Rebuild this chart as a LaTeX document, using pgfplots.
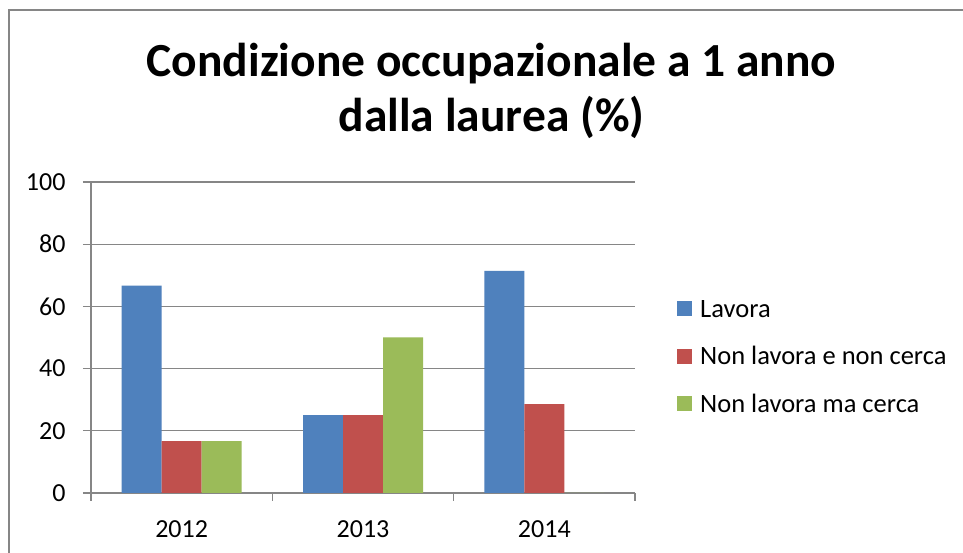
\documentclass[border=0pt]{standalone}
\usepackage{pgfplots}
\pgfplotsset{compat=1.18}
\usepackage{fontspec}
\setmainfont{Carlito}
\definecolor{sblue}{HTML}{4F81BD}
\definecolor{sred}{HTML}{C0504D}
\definecolor{sgreen}{HTML}{9BBB59}
\definecolor{lgray}{HTML}{868686}
\begin{document}
\begin{tikzpicture}[x=1pt,y=1pt]
\useasboundingbox (0,0) rectangle (963,553);
\fill[white] (0,0) rectangle (963,553);
\draw[lgray, line width=2pt] (9,0) -- (9,543) -- (963,543);
\node[anchor=base, font=\bfseries\fontsize{47.5}{55}\selectfont] at (491.5,476) {Condizione occupazionale a 1 anno};
\node[anchor=base, font=\bfseries\fontsize{47.5}{55}\selectfont] at (491.5,421) {dalla laurea (\%)};
\begin{axis}[
  at={(91pt,60pt)}, anchor=south west,
  scale only axis, width=544pt, height=311pt,
  xmin=-0.5, xmax=2.5, ymin=0, ymax=100,
  ybar=0pt, bar width=40pt,
  axis x line*=bottom, axis y line*=left,
  axis line style={lgray, line width=1.3pt, -},
  ytick={0,20,...,100},
  ymajorgrids, grid style={lgray, line width=1.3pt},
  tick align=outside, major tick length=8pt,
  tick style={lgray, line width=1.3pt},
  xtick={-0.5,0.5,1.5,2.5}, xticklabels={},
  extra x ticks={0,1,2}, extra x tick labels={2012,2013,2014},
  extra x tick style={major tick length=0pt, tick style={draw=none}},
  /pgf/number format/assume math mode=true,
  ticklabel style={font=\fontsize{26}{30}\selectfont, text=black},
  yticklabel style={xshift=-14pt},
  xticklabel style={yshift=-24pt},
  legend style={draw=none, fill=none, at={(1.0717,0.6302)}, anchor=north west,
    font=\fontsize{26.5}{30}\selectfont, row sep=29.5pt,
    nodes={inner sep=0pt, text height=18pt, text depth=0pt},
    /tikz/every odd column/.append style={column sep=8pt},
    /tikz/every even column/.append style={yshift=8pt}},
  legend cell align=left,
  legend image code/.code={\fill[#1,draw=none] (0pt,0pt) rectangle (15pt,15pt);},
]
\addplot[fill=sblue, draw=none] coordinates {(0,66.7) (1,25) (2,71.4)};
\addplot[fill=sred, draw=none] coordinates {(0,16.7) (1,25) (2,28.6)};
\addplot[fill=sgreen, draw=none] coordinates {(0,16.7) (1,50) (2,0)};
\legend{Lavora, Non lavora e non cerca, Non lavora ma cerca}
\end{axis}
\end{tikzpicture}
\end{document}
